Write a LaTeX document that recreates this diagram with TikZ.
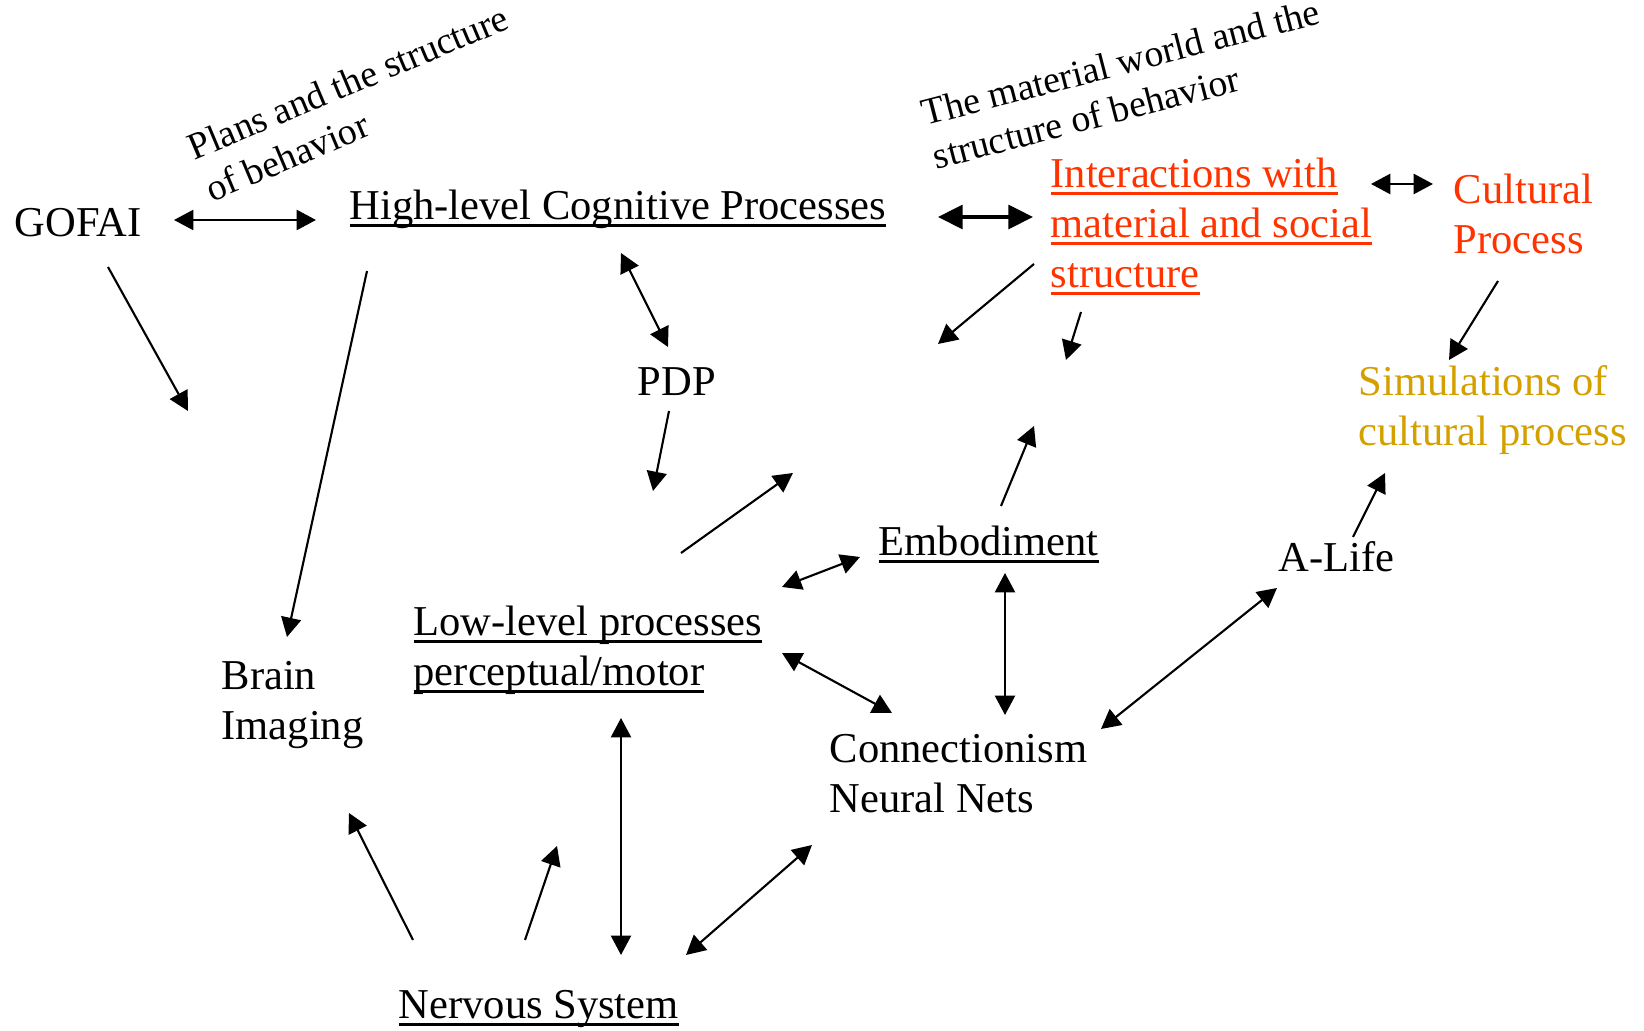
\documentclass[tikz,border=0pt]{standalone}
\usepackage{fontspec}
\setmainfont{Liberation Serif}
\usetikzlibrary{arrows.meta,positioning}

\definecolor{culture}{RGB}{255,51,0}
\definecolor{simcol}{RGB}{212,160,0}
\newcommand{\stacked}[1]{\begin{tabular}[t]{@{}l@{}}#1\end{tabular}}
\newcommand{\undl}[1]{\setbox0\hbox{#1}\rlap{\rule[-2pt]{\wd0}{0.75pt}}\box0}

\begin{document}
\begin{tikzpicture}[x=0.01cm,y=-0.01cm,
  every node/.style={inner sep=0pt, anchor=base west, font=\fontsize{12.1}{14.2}\selectfont},
  note/.style={font=\fontsize{10.75}{12.8}\selectfont},
  oneway/.style={-{Triangle[length=5.5pt,width=5.7pt]}, line width=0.6pt},
  twoway/.style={{Triangle[length=5.5pt,width=5.7pt]}-{Triangle[length=5.5pt,width=5.7pt]}, line width=0.6pt},
  heavy/.style={{Triangle[length=7pt,width=6.8pt]}-{Triangle[length=7pt,width=6.8pt]}, line width=0.9pt}]

\useasboundingbox (0,0) rectangle (1644,1031);

% the fields
\node (gofai) at (14,237) {GOFAI};
\node (high) at (349,220) {\undl{High-level Cognitive Processes}};
\node[text=culture] (inter) at (1050,188) {\stacked{\undl{Interactions with}\\ \undl{material and social}\\ \undl{structure}}};
\node[text=culture] (cult) at (1453,204) {\stacked{Cultural\\ Process}};
\node (pdp) at (637,396) {PDP};
\node[text=simcol] (simul) at (1358,396) {\stacked{Simulations of\\ cultural process}};
\node (embod) at (878,556) {\undl{Embodiment}};
\node (alife) at (1278,572) {A-Life};
\node (low) at (413,636) {\stacked{\undl{Low-level processes}\\ \undl{perceptual/motor}}};
\node (brain) at (221,690) {\stacked{Brain\\ Imaging}};
\node (conn) at (829,763) {\stacked{Connectionism\\ Neural Nets}};
\node (nerv) at (398,1019) {\undl{Nervous System}};

% slanted notes
\node[note, rotate=22.8] (plans) at (194,161) {\stacked{Plans and the structure\\ of behavior}};
\node[note, rotate=14.5] (world) at (925,126) {\stacked{The material world and the\\ structure of behavior}};

% loose ends
\coordinate (gofai-out) at (188,411);
\coordinate (pdp-out) at (653,491);
\coordinate (inter-out) at (938,344);
\coordinate (inter-down) at (1066,360);
\coordinate (low-out) at (793,473);
\coordinate (embod-out) at (1034,426);
\coordinate (nerv-out) at (557,846);

% top row
\draw[twoway] ([shift={(160,-17)}]gofai.base west) -- ([shift={(-33,0)}]high.base west);
\draw[heavy] ([shift={(589,-3)}]high.base west) -- ([shift={(-17,29)}]inter.base west);
\draw[twoway, line width=0.7pt] ([shift={(321,-4)}]inter.base west) -- ([shift={(-20,-20)}]cult.base west);

% downwards
\draw[oneway] ([shift={(94,30)}]gofai.base west) -- (gofai-out);
\draw[oneway] ([shift={(18,51)}]high.base west) -- ([shift={(66,-53)}]brain.base west);
\draw[twoway] ([shift={(272,33)}]high.base west) -- ([shift={(31,-49)}]pdp.base west);
\draw[oneway] ([shift={(32,15)}]pdp.base west) -- (pdp-out);
\draw[oneway] ([shift={(-16,76)}]inter.base west) -- (inter-out);
\draw[oneway] ([shift={(31,124)}]inter.base west) -- (inter-down);
\draw[oneway] ([shift={(45,77)}]cult.base west) -- ([shift={(91,-36)}]simul.base west);

% middle
\draw[oneway] ([shift={(268,-83)}]low.base west) -- (low-out);
\draw[oneway] ([shift={(123,-50)}]embod.base west) -- (embod-out);
\draw[oneway] ([shift={(75,-35)}]alife.base west) -- ([shift={(27,77)}]simul.base west);
\draw[twoway] ([shift={(369,-49)}]low.base west) -- ([shift={(-18,1)}]embod.base west);
\draw[twoway] ([shift={(127,17)}]embod.base west) -- ([shift={(176,-48)}]conn.base west);
\draw[twoway] ([shift={(369,17)}]low.base west) -- ([shift={(63,-50)}]conn.base west);
\draw[twoway] ([shift={(272,-34)}]conn.base west) -- ([shift={(-1,16)}]alife.base west);

% bottom
\draw[oneway] ([shift={(15,-79)}]nerv.base west) -- ([shift={(128,123)}]brain.base west);
\draw[oneway] ([shift={(127,-79)}]nerv.base west) -- (nerv-out);
\draw[twoway] ([shift={(208,82)}]low.base west) -- ([shift={(223,-64)}]nerv.base west);
\draw[twoway] ([shift={(288,-64)}]nerv.base west) -- ([shift={(-17,82)}]conn.base west);

\end{tikzpicture}
\end{document}
